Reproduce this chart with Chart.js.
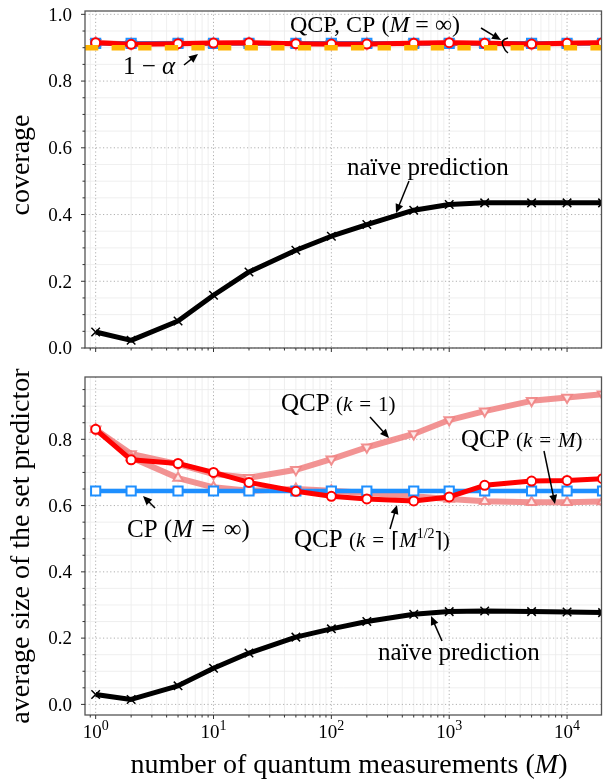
<!DOCTYPE html>
<html>
<head>
<meta charset="utf-8">
<script src="https://cdn.jsdelivr.net/npm/chart.js@4.4.0/dist/chart.umd.min.js"></script>
<style>
  html, body { margin: 0; padding: 0; background: #fff; }
  #wrap { position: relative; width: 610px; height: 782px; }
  canvas { position: absolute; left: 0; }
  #topChart { top: 0; }
  #bottomChart { top: 360px; }
</style>
</head>
<body>
<div id="wrap">
  <canvas id="topChart" width="610" height="360"></canvas>
  <canvas id="bottomChart" width="610" height="422"></canvas>
</div>
<script>
// number of quantum measurements
const M = [1, 2, 5, 10, 20, 50, 100, 200, 500, 1000, 2000, 5000, 10000, 20000];
const xLimits = [0.812, 19600];
const xTickExps = [0, 1, 2, 3, 4];

// top panel: coverage
const coverageLimits = [0, 1.01];
const coverageTicks = [0.0, 0.2, 0.4, 0.6, 0.8, 1.0];
const targetCoverage = 0.9;
const covNaive = [0.048, 0.023, 0.081, 0.158, 0.228, 0.293, 0.335, 0.370, 0.413, 0.430, 0.435, 0.435, 0.435, 0.435];
const covQcpSqrt = [0.915, 0.910, 0.912, 0.914, 0.915, 0.912, 0.911, 0.911, 0.913, 0.915, 0.913, 0.911, 0.913, 0.915];
const covQcpK1 = [0.915, 0.912, 0.913, 0.913, 0.914, 0.912, 0.912, 0.912, 0.913, 0.914, 0.913, 0.912, 0.913, 0.914];
const covQcpKM = [0.915, 0.911, 0.912, 0.912, 0.913, 0.912, 0.911, 0.912, 0.912, 0.913, 0.912, 0.911, 0.912, 0.913];
const covCp = [0.913, 0.913, 0.913, 0.913, 0.913, 0.913, 0.913, 0.913, 0.913, 0.913, 0.913, 0.913, 0.913, 0.913];

// bottom panel: average size of the set predictor
const sizeLimits = [-0.032, 0.988];
const sizeTicks = [0.0, 0.2, 0.4, 0.6, 0.8];
const sizeNaive = [0.030, 0.015, 0.056, 0.109, 0.155, 0.203, 0.228, 0.250, 0.272, 0.280, 0.282, 0.280, 0.279, 0.277];
const sizeCp = [0.644, 0.644, 0.644, 0.644, 0.644, 0.644, 0.644, 0.644, 0.644, 0.644, 0.644, 0.644, 0.644, 0.644];
const sizeQcpSqrt = [0.830, 0.738, 0.727, 0.700, 0.670, 0.643, 0.628, 0.620, 0.614, 0.626, 0.661, 0.674, 0.676, 0.681];
const sizeQcpK1 = [0.830, 0.756, 0.725, 0.695, 0.684, 0.708, 0.740, 0.776, 0.816, 0.858, 0.885, 0.916, 0.926, 0.936];
const sizeQcpKM = [0.830, 0.745, 0.683, 0.655, 0.645, 0.650, 0.645, 0.638, 0.628, 0.620, 0.613, 0.610, 0.610, 0.612];

const SERIF = "'Liberation Serif', 'DejaVu Serif', serif";
const RED = '#ff0000', PINK = 'rgba(240,128,128,0.85)', BLUE = '#1e8fff', ORANGE = '#ffb400';
const EQ = '\u2004=\u2004';

function pts(ys) {
    return M.map((m, i) => ({ x: m, y: ys[i] }));
}

function series(ys, color, extra) {
    return Object.assign({
        data: pts(ys),
        borderColor: color,
        borderWidth: 5,
        borderJoinStyle: 'round',
        tension: 0,
        clip: 0,
        pointRadius: 4.5,
        pointBorderWidth: 2,
        pointBorderColor: color,
        pointBackgroundColor: '#fff',
    }, extra);
}

function xMinorTicks() {
    const out = [];
    for (let e = -1; e <= 4; e++) {
        for (let k = 2; k <= 9; k++) {
            const v = k * Math.pow(10, e);
            if (v > xLimits[0] && v < xLimits[1]) out.push(v);
        }
    }
    return out;
}

function yMinorTicks(lim) {
    const out = [];
    for (let i = Math.ceil(lim[0] / 0.05); i * 0.05 <= lim[1]; i++) {
        if (i % 4 !== 0) out.push(i * 0.05);
    }
    return out;
}

function line(ctx, x1, y1, x2, y2) {
    ctx.beginPath();
    ctx.moveTo(x1, y1);
    ctx.lineTo(x2, y2);
    ctx.stroke();
}

function richText(ctx, parts, x, y) {
    let cx = x;
    parts.forEach(p => {
        ctx.font = p[1];
        ctx.fillText(p[0], cx, y + (p[2] || 0));
        cx += ctx.measureText(p[0]).width;
    });
}

function arrow(ctx, x1, y1, x2, y2) {
    const ang = Math.atan2(y2 - y1, x2 - x1);
    const hl = 9, hw = 4;
    ctx.strokeStyle = '#000';
    ctx.fillStyle = '#000';
    ctx.lineWidth = 1.5;
    line(ctx, x1, y1, x2 - Math.cos(ang) * hl * 0.8, y2 - Math.sin(ang) * hl * 0.8);
    ctx.beginPath();
    ctx.moveTo(x2, y2);
    ctx.lineTo(x2 - Math.cos(ang) * hl - Math.sin(ang) * hw, y2 - Math.sin(ang) * hl + Math.cos(ang) * hw);
    ctx.lineTo(x2 - Math.cos(ang) * hl + Math.sin(ang) * hw, y2 - Math.sin(ang) * hl - Math.cos(ang) * hw);
    ctx.closePath();
    ctx.fill();
}

const big = `25px ${SERIF}`, bigIt = `italic 25px ${SERIF}`;
const mid = `24px ${SERIF}`, midIt = `italic 24px ${SERIF}`;
const small = `21px ${SERIF}`, smallIt = `italic 21px ${SERIF}`, sup = `14px ${SERIF}`;

// axes, grid, labels and annotations
function decor(cfg) {
    return {
        id: 'decor',
        beforeDatasetsDraw(chart) {
            const { ctx, chartArea: a, scales: { x, y } } = chart;
            ctx.save();
            ctx.strokeStyle = '#ebebeb';
            ctx.lineWidth = 0.8;
            xMinorTicks().forEach(v => { const p = x.getPixelForValue(v); line(ctx, p, a.top, p, a.bottom); });
            yMinorTicks(cfg.yLimits).forEach(v => { const p = y.getPixelForValue(v); line(ctx, a.left, p, a.right, p); });
            ctx.strokeStyle = '#b0b0b0';
            ctx.lineWidth = 1;
            ctx.setLineDash([1.2, 2.4]);
            xTickExps.forEach(e => { const p = x.getPixelForValue(Math.pow(10, e)); line(ctx, p, a.top, p, a.bottom); });
            cfg.yTicks.forEach(v => { const p = y.getPixelForValue(v); line(ctx, a.left, p, a.right, p); });
            ctx.restore();
        },
        afterDatasetsDraw(chart) {
            const { ctx, chartArea: a, scales: { x, y } } = chart;
            ctx.save();
            // spines
            ctx.strokeStyle = '#555';
            ctx.lineWidth = 1.3;
            ctx.strokeRect(a.left, a.top, a.right - a.left, a.bottom - a.top);
            // ticks
            ctx.strokeStyle = '#333';
            ctx.lineWidth = 1;
            xTickExps.forEach(e => { const p = x.getPixelForValue(Math.pow(10, e)); line(ctx, p, a.bottom, p, a.bottom + 4); });
            xMinorTicks().forEach(v => { const p = x.getPixelForValue(v); line(ctx, p, a.bottom, p, a.bottom + 2.5); });
            cfg.yTicks.forEach(v => { const p = y.getPixelForValue(v); line(ctx, a.left, p, a.left - 4, p); });
            yMinorTicks(cfg.yLimits).forEach(v => { const p = y.getPixelForValue(v); line(ctx, a.left, p, a.left - 2.5, p); });
            // tick labels
            ctx.fillStyle = '#000';
            ctx.font = `19px ${SERIF}`;
            ctx.textAlign = 'right';
            ctx.textBaseline = 'alphabetic';
            cfg.yTicks.forEach(v => ctx.fillText(v.toFixed(1), 72, y.getPixelForValue(v) + 6.3));
            ctx.textAlign = 'left';
            if (cfg.xLabels) {
                xTickExps.forEach(e => {
                    const p = x.getPixelForValue(Math.pow(10, e));
                    ctx.font = `19px ${SERIF}`;
                    const w1 = ctx.measureText('10').width;
                    ctx.font = sup;
                    const w2 = ctx.measureText(String(e)).width;
                    richText(ctx, [['10', `19px ${SERIF}`], [String(e), sup, -8]], p - (w1 + w2) / 2, a.bottom + 23);
                });
                const t = 'number of quantum measurements (';
                ctx.font = `28px ${SERIF}`;
                const wT = ctx.measureText(t).width;
                const wE = ctx.measureText(')').width;
                ctx.font = `italic 28px ${SERIF}`;
                const wM = ctx.measureText('M').width;
                richText(ctx, [[t, `28px ${SERIF}`], ['M', `italic 28px ${SERIF}`], [')', `28px ${SERIF}`]],
                    349 - (wT + wM + wE) / 2, a.bottom + 58);
            }
            // y title
            ctx.save();
            ctx.translate(29, cfg.titleY);
            ctx.rotate(-Math.PI / 2);
            ctx.textAlign = 'center';
            ctx.font = `28px ${SERIF}`;
            ctx.fillText(cfg.yTitle, 0, 0);
            ctx.restore();
            // annotations
            ctx.textAlign = 'left';
            ctx.fillStyle = '#000';
            cfg.notes(ctx);
            ctx.restore();
        }
    };
}

const baseOptions = (yLim, pad) => ({
    responsive: false,
    animation: false,
    layout: { padding: pad },
    plugins: { legend: { display: false }, tooltip: { enabled: false } },
    scales: {
        x: { type: 'logarithmic', min: xLimits[0], max: xLimits[1], bounds: 'data', display: false },
        y: { type: 'linear', min: yLim[0], max: yLim[1], display: false },
    },
});

// Top: coverage
new Chart(document.getElementById('topChart').getContext('2d'), {
    type: 'line',
    data: {
        datasets: [
            series(covQcpK1, PINK, { order: 6, pointStyle: 'triangle', pointRotation: 180, pointRadius: 5.5 }),
            series(covQcpKM, PINK, { order: 5, pointStyle: 'triangle', pointRadius: 5.5 }),
            series(covCp, BLUE, { order: 4, borderWidth: 4.5, pointStyle: 'rect', pointRadius: 6.5 }),
            series(covQcpSqrt, RED, { order: 3 }),
            {
                data: [{ x: xLimits[0], y: targetCoverage }, { x: xLimits[1], y: targetCoverage }],
                borderColor: ORANGE, borderWidth: 5.5, borderDash: [13.3, 13.3], borderCapStyle: 'butt',
                pointRadius: 0, clip: 0, order: 2,
            },
            series(covNaive, '#000', { order: 1, pointStyle: 'crossRot', pointRadius: 6, pointBorderWidth: 1.5 }),
        ],
    },
    options: baseOptions(coverageLimits, { left: 85, right: 7, top: 11, bottom: 12 }),
    plugins: [decor({
        yTicks: coverageTicks, yLimits: coverageLimits, yTitle: 'coverage', titleY: 165, xLabels: false,
        notes(ctx) {
            richText(ctx, [['QCP, CP (', mid], ['M', midIt], [' = ∞)', mid]], 290, 32);
            arrow(ctx, 481, 28, 501, 40);
            ctx.strokeStyle = '#000';
            ctx.lineWidth = 1.5;
            ctx.beginPath();
            ctx.moveTo(508, 38);
            ctx.quadraticCurveTo(500, 40, 503, 46);
            ctx.quadraticCurveTo(505, 51, 508, 53);
            ctx.stroke();
            richText(ctx, [['1 − ', big], ['α', bigIt]], 123, 74);
            arrow(ctx, 184, 65, 198, 54);
            richText(ctx, [['naïve prediction', big]], 347, 175);
            arrow(ctx, 409, 181, 396, 213);
        },
    })],
});

// Bottom: average size
new Chart(document.getElementById('bottomChart').getContext('2d'), {
    type: 'line',
    data: {
        datasets: [
            series(sizeQcpK1, PINK, { order: 6, borderWidth: 6, pointStyle: 'triangle', pointRotation: 180, pointRadius: 5.5, pointBackgroundColor: '#fde9e9' }),
            series(sizeQcpKM, PINK, { order: 5, borderWidth: 6, pointStyle: 'triangle', pointRadius: 5.5, pointBackgroundColor: '#fde9e9' }),
            series(sizeCp, BLUE, { order: 4, borderWidth: 4.5, pointStyle: 'rect', pointRadius: 6.5 }),
            series(sizeQcpSqrt, RED, { order: 2 }),
            series(sizeNaive, '#000', { order: 1, pointStyle: 'crossRot', pointRadius: 6, pointBorderWidth: 1.5 }),
        ],
    },
    options: baseOptions(sizeLimits, { left: 85, right: 7, top: 17, bottom: 67 }),
    plugins: [decor({
        yTicks: sizeTicks, yLimits: sizeLimits, yTitle: 'average size of the set predictor', titleY: 186, xLabels: true,
        notes(ctx) {
            richText(ctx, [['QCP ', big], ['(', small], ['k', smallIt], [EQ + '1)', small]], 281, 51);
            arrow(ctx, 370, 57, 389, 78);
            richText(ctx, [['QCP ', big], ['(', small], ['k', smallIt], [EQ, small], ['M', smallIt], [')', small]], 461, 87);
            arrow(ctx, 544, 91, 555, 144);
            richText(ctx, [['CP (', big], ['M', bigIt], [EQ + '∞)', big]], 127, 177);
            arrow(ctx, 155, 148, 143, 136);
            richText(ctx, [['QCP ', big], ['(', small], ['k', smallIt], [EQ + '⌈', small], ['M', smallIt], ['1/2', sup, -9], ['⌉)', small]], 294, 187);
            arrow(ctx, 390, 169, 397, 145);
            richText(ctx, [['naïve prediction', big]], 378, 300);
            arrow(ctx, 442, 281, 431, 256);
        },
    })],
});
</script>
</body>
</html>
